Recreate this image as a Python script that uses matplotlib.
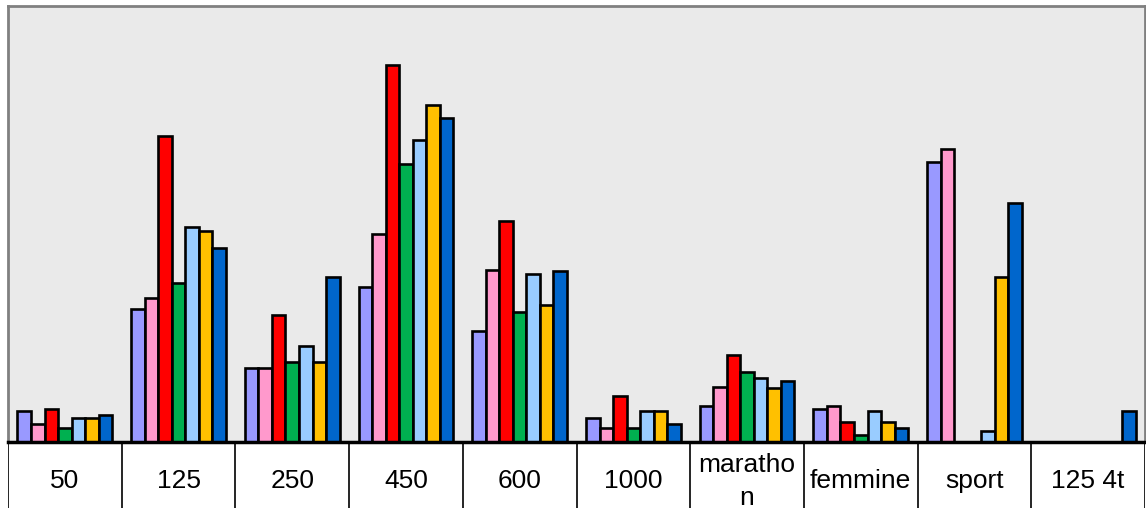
import matplotlib
matplotlib.use("Agg")
import matplotlib.pyplot as plt
import numpy as np

categories = ["50", "125", "250", "450", "600", "1000", "maratho\nn", "femmine", "sport", "125 4t"]
series_colors = ["#9999FF", "#FF99CC", "#FF0000", "#00B050", "#99CCFF", "#FFC000", "#0066CC"]

s1 = [31, 133, 74, 155, 111, 24, 36, 33, 280, 0]
s2 = [18, 144, 74, 208, 172, 14, 55, 36, 293, 0]
s3 = [33, 306, 127, 377, 221, 46, 87, 20, 0, 0]
s4 = [14, 159, 80, 278, 130, 14, 70, 7, 0, 0]
s5 = [24, 215, 96, 302, 168, 31, 64, 31, 11, 0]
s6 = [24, 211, 80, 337, 137, 31, 54, 20, 165, 0]
s7 = [27, 194, 165, 324, 171, 18, 61, 14, 239, 31]
series = [s1, s2, s3, s4, s5, s6, s7]

W, H = 1146, 508
fig = plt.figure(figsize=(W / 100, H / 100), dpi=100)
fig.patch.set_facecolor("white")

x0, x1 = 8, 1145
ytop, ybase = 6, 442
ax = fig.add_axes([x0 / W, (H - ybase) / H, (x1 - x0) / W, (ybase - ytop) / H])
ax.set_facecolor("#EAEAEA")

n = len(categories)
ns = len(series)
bw = 0.119
x = np.arange(n)
for i, (vals, c) in enumerate(zip(series, series_colors)):
    pos = x + (i - (ns - 1) / 2) * bw
    ax.bar(pos, vals, width=bw, color=c, edgecolor="black", linewidth=1.9, zorder=3)

ax.set_xlim(-0.5, n - 0.5)
ax.set_ylim(0, 436)
ax.set_xticks([])
ax.set_yticks([])
for side in ["left", "top", "right"]:
    ax.spines[side].set_color("#808080")
    ax.spines[side].set_linewidth(2)
ax.spines["bottom"].set_color("black")
ax.spines["bottom"].set_linewidth(2.5)
ax.spines["bottom"].set_zorder(4)

# category table below
th = H - ybase
tab = fig.add_axes([x0 / W, 0, (x1 - x0) / W, th / H])
tab.set_xlim(-0.5, n - 0.5)
tab.set_ylim(0, 1)
tab.axis("off")
for k in range(n + 1):
    tab.axvline(k - 0.5, color="black", linewidth=1.2)
for k, lab in enumerate(categories):
    lines = lab.split("\n")
    if len(lines) == 2:
        tab.text(k, (H - 472) / th, lines[0], ha="center", va="baseline",
                 fontsize=19, family="Liberation Sans")
        tab.text(k, (H - 505) / th, lines[1], ha="center", va="baseline",
                 fontsize=19, family="Liberation Sans")
    else:
        tab.text(k, (H - 488) / th, lab, ha="center", va="baseline",
                 fontsize=19, family="Liberation Sans")

fig.savefig("out.png", dpi=100, facecolor="white")
